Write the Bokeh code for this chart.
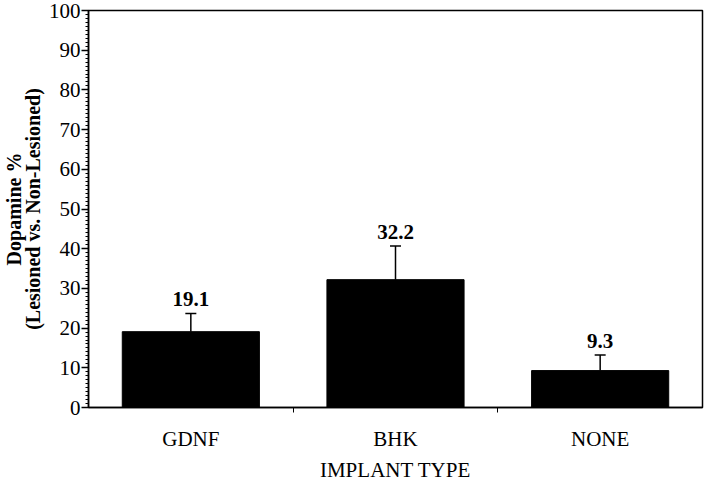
from bokeh.plotting import figure
from bokeh.models import (ColumnDataSource, FixedTicker, Whisker, TeeHead,
                          LabelSet, Range1d)
from bokeh.embed import file_html
from bokeh.resources import INLINE

categories = ["GDNF", "BHK", "NONE"]
dopamine_pct = [19.1, 32.2, 9.3]
sem_err = [4.6, 8.5, 3.9]
y_ticks = [0, 10, 20, 30, 40, 50, 60, 70, 80, 90, 100]
x_title = "IMPLANT TYPE"
y_title = "Dopamine %\n(Lesioned vs. Non-Lesioned)"

xs = [i + 0.5 for i in range(len(categories))]
upper = [v + e for v, e in zip(dopamine_pct, sem_err)]
labels = [f"{v:.1f}" for v in dopamine_pct]

src = ColumnDataSource(dict(x=xs, top=dopamine_pct, upper=upper, lab=labels))

p = figure(width=704, height=487, output_backend="svg", toolbar_location=None,
           x_range=Range1d(0, len(categories)), y_range=Range1d(0, 100),
           min_border_left=80, min_border_right=2, min_border_top=10,
           min_border_bottom=80)

p.vbar(x="x", top="top", bottom=0, width=0.67, source=src,
       fill_color="black", line_color="black")

wh = Whisker(base="x", lower="top", upper="upper", source=src,
             line_color="black", line_width=1.5,
             upper_head=TeeHead(size=11, line_color="black", line_width=1.5),
             lower_head=None)
p.add_layout(wh)

ls = LabelSet(x="x", y="upper", text="lab", source=src, y_offset=7,
              text_align="center", text_baseline="bottom",
              text_font="Liberation Serif", text_font_style="bold",
              text_font_size="21px", text_color="black")
p.add_layout(ls)

p.xgrid.visible = False
p.ygrid.visible = False
p.outline_line_color = "black"
p.outline_line_width = 1.5
p.background_fill_color = "white"

# y axis
p.yaxis.ticker = FixedTicker(ticks=y_ticks, minor_ticks=list(range(0, 101)))
p.yaxis.major_tick_out = 7
p.yaxis.major_tick_in = 0
p.yaxis.minor_tick_out = 3
p.yaxis.minor_tick_in = 0
p.yaxis.major_label_standoff = 1
p.yaxis.axis_label = y_title
p.yaxis.axis_label_text_font = "Liberation Serif"
p.yaxis.axis_label_text_font_style = "bold"
p.yaxis.axis_label_text_font_size = "20px"
p.yaxis.axis_label_text_line_height = 0.85
p.yaxis.axis_label_standoff = 2
p.yaxis.major_label_text_font_size = "21px"

# x axis
p.xaxis.ticker = FixedTicker(ticks=xs, minor_ticks=[1, 2])
p.xaxis.major_label_overrides = {x: c for x, c in zip(xs, categories)}
p.xaxis.major_tick_out = 0
p.xaxis.major_tick_in = 0
p.xaxis.minor_tick_out = 5
p.xaxis.minor_tick_in = 0
p.xaxis.major_label_standoff = 14
p.xaxis.major_label_text_font_size = "21px"
p.xaxis.major_label_text_line_height = 0.9
p.xaxis.axis_label = x_title
p.xaxis.axis_label_text_font = "Liberation Serif"
p.xaxis.axis_label_text_font_style = "normal"
p.xaxis.axis_label_text_font_size = "21px"
p.xaxis.axis_label_text_line_height = 0.9
p.xaxis.axis_label_standoff = 4

for ax in (p.xaxis, p.yaxis):
    ax.axis_line_color = "black"
    ax.axis_line_width = 1.5
    ax.major_tick_line_color = "black"
    ax.major_tick_line_width = 1.5
    ax.minor_tick_line_color = "black"
    ax.minor_tick_line_width = 1
    ax.major_label_text_font = "Liberation Serif"
    ax.major_label_text_color = "black"
    ax.axis_label_text_color = "black"

open("out.html", "w").write(file_html(p, INLINE))
